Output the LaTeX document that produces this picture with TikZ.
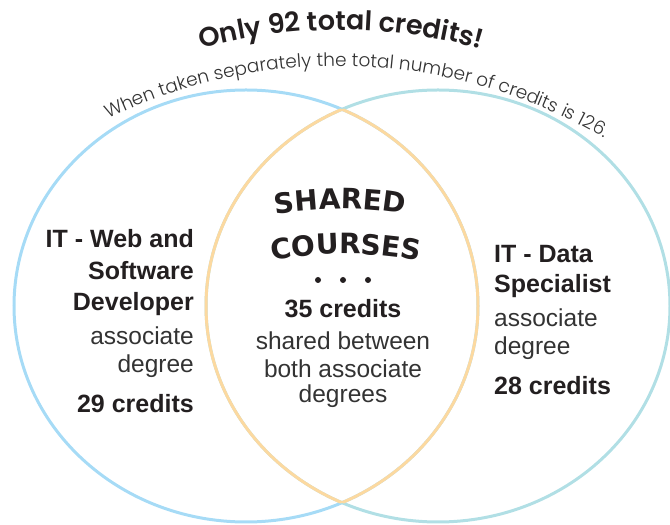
\documentclass[tikz,border=0pt]{standalone}
\usepackage{fontspec}
\usetikzlibrary{decorations.text}
\setmainfont{Liberation Sans}
\newfontfamily\headfont{Poppins}[UprightFont=* SemiBold]
\newfontfamily\subfont{Poppins}[UprightFont=* Light]
\newfontfamily\sharedfont{DejaVu Sans}
\definecolor{cblue}{HTML}{A6DBF6}
\definecolor{cteal}{HTML}{B1DFE5}
\definecolor{corange}{HTML}{FCD9A0}
\definecolor{ink}{HTML}{231F20}
\definecolor{inkl}{HTML}{333333}
\begin{document}
\begin{tikzpicture}[x=1pt,y=1pt,
  ring/.style={line width=3pt},
  boldline/.style={font=\fontsize{25}{29}\selectfont\bfseries, text=ink, inner sep=0pt},
  regline/.style={font=\fontsize{24.5}{28}\selectfont, text=inkl, inner sep=0pt},
  dot/.style={circle, fill=ink, inner sep=0pt, minimum size=6pt},
]
\useasboundingbox (0,0) rectangle (670,525);
% circles
\draw[ring, cblue] (246,219) ellipse[x radius=232, y radius=216];
\draw[ring, cteal] (438,219) ellipse[x radius=232, y radius=216];
\begin{scope}
  \clip (246,219) ellipse[x radius=232, y radius=216];
  \draw[ring, corange] (438,219) ellipse[x radius=232, y radius=216];
\end{scope}
\begin{scope}
  \clip (438,219) ellipse[x radius=232, y radius=216];
  \draw[ring, corange] (246,219) ellipse[x radius=232, y radius=216];
\end{scope}
% curved titles
\path[decorate, decoration={text along path, text align=center,
  text={|\fontsize{27}{27}\headfont\color{ink}|Only 92 total credits!}}]
  ([shift={(125:523)}]341,-28) arc[start angle=125, end angle=55, radius=523];
\path[decorate, decoration={text along path, text align=center,
  text={|\fontsize{18.5}{18.5}\subfont\color{inkl}|When taken separately the total number of credits is 126.}}]
  ([shift={(127.8:526)}]338,-67) arc[start angle=127.8, end angle=47.8, radius=526];
\path[decorate, decoration={text along path, text align=center,
  text={|\fontsize{28}{28}\sharedfont\bfseries\color{ink}|SHARED}}]
  ([shift={(105:400)}]340,-84) arc[start angle=105, end angle=75, radius=400];
\path[decorate, decoration={text along path, text align=center,
  text={|\fontsize{28}{28}\sharedfont\bfseries\color{ink}|COURSES}}]
  ([shift={(105:400)}]346,-129) arc[start angle=105, end angle=75, radius=400];
% dots
\node[dot] (dot1) at (318,245) {};
\node[dot] (dot2) at (343,245) {};
\node[dot] (dot3) at (368,245) {};
% left group
\node[boldline, anchor=base east] (w1) at (194,277) {IT - Web and};
\node[boldline, anchor=base east] (w2) at (194,245) {Software};
\node[boldline, anchor=base east] (w3) at (194,214) {Developer};
\node[regline, anchor=base east] (w4) at (194,180) {associate};
\node[regline, anchor=base east] (w5) at (194,152) {degree};
\node[boldline, anchor=base east] (w6) at (194,112) {29 credits};
% right group
\node[boldline, anchor=base west] (d1) at (494,262) {IT - Data};
\node[boldline, anchor=base west] (d2) at (494,232) {Specialist};
\node[regline, anchor=base west] (d3) at (494,198) {associate};
\node[regline, anchor=base west] (d4) at (494,170) {degree};
\node[boldline, anchor=base west] (d5) at (494,130) {28 credits};
% centre group
\node[boldline, anchor=base] (s1) at (343,207) {35 credits};
\node[regline, anchor=base] (s2) at (343,175) {shared between};
\node[regline, anchor=base] (s3) at (343,147) {both associate};
\node[regline, anchor=base] (s4) at (343,122) {degrees};
\end{tikzpicture}
\end{document}
